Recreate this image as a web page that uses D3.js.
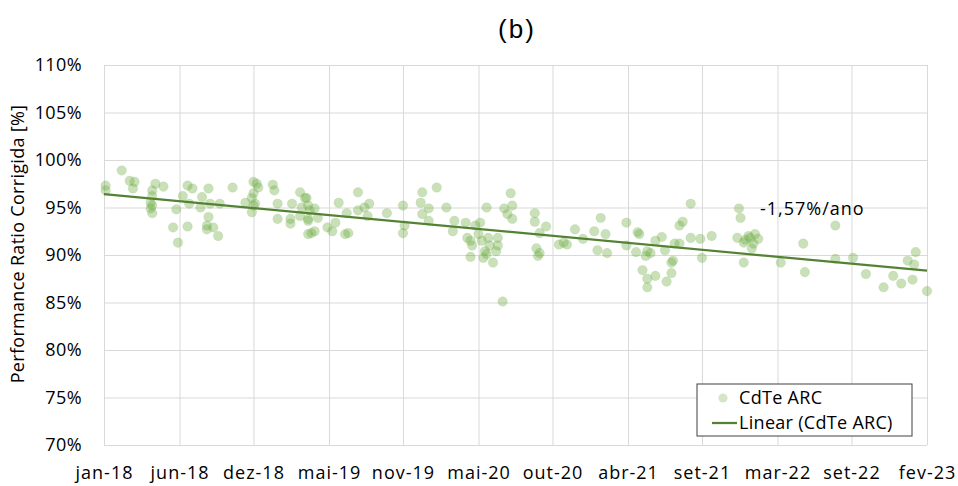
<!DOCTYPE html>
<html>
<head>
<meta charset="utf-8">
<script src="https://cdn.jsdelivr.net/npm/d3@7"></script>
<style>
    body { margin: 0; background: #fff; }
    svg { display: block; }
</style>
</head>
<body>
<svg id="chart" width="958" height="486"></svg>
<script>
// measured points: decimal year / performance ratio (%)
const pointYears = [
    2018.02, 2018.02, 2018.12, 2018.17, 2018.20, 2018.19, 2018.33, 2018.38, 2018.31, 2018.31,
    2018.30, 2018.31, 2018.30, 2018.31, 2018.46, 2018.44, 2018.47, 2018.50, 2018.53, 2018.56,
    2018.54, 2018.53, 2018.62, 2018.61, 2018.66, 2018.67, 2018.66, 2018.65, 2018.69, 2018.65,
    2018.72, 2018.73, 2018.81, 2018.89, 2018.94, 2018.96, 2018.97, 2018.94, 2018.93, 2018.95,
    2018.94, 2018.93, 2019.06, 2019.07, 2019.09, 2019.09, 2019.17, 2019.17, 2019.18, 2019.23,
    2019.26, 2019.24, 2019.23, 2019.28, 2019.28,
    2019.27, 2019.28, 2019.29, 2019.28, 2019.32, 2019.34, 2019.30, 2019.32, 2019.40, 2019.43,
    2019.45, 2019.47, 2019.52, 2019.51, 2019.53, 2019.59, 2019.59, 2019.63, 2019.66, 2019.65,
    2019.77, 2019.87, 2019.88, 2019.87, 2019.99, 2019.98, 2019.99, 2020.03, 2020.03, 2020.08,
    2020.14, 2020.19, 2020.18, 2020.26, 2020.27, 2020.29, 2020.30, 2020.29, 2020.32, 2020.35,
    2020.34, 2020.36, 2020.38, 2020.37, 2020.39, 2020.40, 2020.41, 2020.39, 2020.43, 2020.46,
    2020.46, 2020.45, 2020.49, 2020.50, 2020.52, 2020.54, 2020.55, 2020.55,
    2020.69, 2020.69, 2020.72, 2020.76, 2020.70, 2020.72, 2020.71, 2020.84, 2020.87, 2020.89,
    2020.94, 2020.99, 2021.06, 2021.10, 2021.13, 2021.08, 2021.14, 2021.26, 2021.26, 2021.33,
    2021.34, 2021.32, 2021.39, 2021.38, 2021.41, 2021.36, 2021.39, 2021.39, 2021.44, 2021.44,
    2021.48, 2021.50, 2021.51, 2021.54, 2021.55, 2021.54, 2021.56, 2021.59, 2021.59, 2021.61,
    2021.66, 2021.66, 2021.72, 2021.73, 2021.79,
    2021.96, 2021.97, 2021.95, 2021.99, 2022.03, 2022.06, 2022.08, 2022.05, 2022.04, 2021.99,
    2022.00, 2022.02, 2022.22, 2022.36, 2022.37, 2022.56, 2022.56, 2022.67, 2022.75, 2022.86,
    2022.92, 2022.97, 2023.04, 2023.01, 2023.05, 2023.06, 2023.13
];
const pointValues = [
    97.3, 96.8, 98.9, 97.8, 97.7, 97.0, 97.5, 97.2, 96.8, 96.2,
    95.5, 95.2, 94.9, 94.4, 94.8, 92.9, 91.3, 96.2, 97.3, 97.0,
    95.4, 93.0, 96.1, 95.0, 97.0, 95.4, 94.0, 93.1, 92.9, 92.7,
    92.0, 95.4, 97.1, 95.5, 97.7, 97.5, 97.1, 96.5, 96.0, 95.4,
    95.2, 94.5, 97.4, 96.8, 95.4, 93.8, 93.8, 93.3, 95.4, 96.6,
    96.0, 95.0, 94.1, 93.8, 92.2,
    96.0, 95.2, 94.7, 93.6, 94.9, 93.9, 92.3, 92.5, 92.9, 92.5,
    93.4, 95.5, 94.4, 92.2, 92.3, 96.6, 94.7, 95.0, 95.4, 94.1,
    94.4, 95.2, 93.1, 92.3, 96.6, 95.5, 94.3, 94.9, 93.6, 97.1,
    95.0, 93.6, 92.5, 93.4, 91.8, 91.5, 91.0, 89.8, 93.1, 93.4,
    92.2, 91.5, 90.4, 89.7, 95.0, 91.8, 91.0, 90.1, 89.2, 91.8,
    91.0, 90.4, 85.1, 94.9, 94.3, 96.5, 93.8, 95.2,
    94.4, 93.5, 92.3, 93.0, 90.7, 90.2, 89.9, 91.1, 91.3, 91.1,
    92.7, 91.7, 92.5, 93.9, 92.2, 90.5, 90.2, 93.4, 91.0, 92.4,
    92.2, 90.3, 90.4, 89.9, 90.2, 88.4, 87.5, 86.6, 87.8, 91.5,
    91.9, 90.5, 87.2, 89.2, 89.4, 88.1, 91.2, 91.2, 93.1, 93.5,
    95.4, 91.8, 91.7, 89.7, 92.0,
    94.9, 93.9, 91.8, 91.3, 91.8, 92.2, 91.7, 91.2, 90.7, 89.2,
    91.6, 92.0, 89.2, 91.2, 88.2, 93.1, 89.6, 89.7, 88.0, 86.6,
    87.8, 87.0, 87.4, 89.4, 89.0, 90.3, 86.2
];

// linear trend endpoints (-1,57%/ano)
const trendYears = [2018.01, 2023.13];
const trendValues = [96.4, 88.35];

const xTickYears = [2018.01, 2018.48, 2018.94, 2019.41, 2019.87, 2020.34,
                    2020.80, 2021.27, 2021.73, 2022.20, 2022.66, 2023.13];
const xTickLabels = ["jan-18", "jun-18", "dez-18", "mai-19", "nov-19", "mai-20",
                     "out-20", "abr-21", "set-21", "mar-22", "set-22", "fev-23"];
const yTicks = [70, 75, 80, 85, 90, 95, 100, 105, 110];

const width = 958;
const height = 486;
const margin = { top: 65, right: 31, bottom: 41, left: 104 };
const innerWidth = width - margin.left - margin.right;
const innerHeight = height - margin.top - margin.bottom;

const pointColor = "#70ad47";
const lineColor = "#548235";
const gridColor = "#d9d9d9";
const labelFont = "'Open Sans', sans-serif";

const svg = d3.select("#chart");

const xScale = d3.scaleLinear()
    .domain([xTickYears[0], xTickYears[xTickYears.length - 1]])
    .range([margin.left, margin.left + innerWidth]);

const yScale = d3.scaleLinear()
    .domain([70, 110])
    .range([margin.top + innerHeight, margin.top]);

// title
svg.append("text")
    .attr("x", 517)
    .attr("y", 38)
    .attr("text-anchor", "middle")
    .style("font-family", "'Liberation Sans', Arial, sans-serif")
    .style("font-size", "26px")
    .style("letter-spacing", "2px")
    .text("(b)");

// y axis + horizontal grid
const yAxis = svg.append("g")
    .attr("transform", `translate(${margin.left}, 0)`)
    .call(d3.axisLeft(yScale)
        .tickValues(yTicks)
        .tickSize(-innerWidth)
        .tickPadding(22)
        .tickFormat(d => d + "%"));
yAxis.select(".domain").remove();
yAxis.selectAll("line").attr("stroke", gridColor);
yAxis.selectAll("text")
    .style("font-family", labelFont)
    .style("font-size", "18px")
    .style("letter-spacing", "0.4px")
    .style("fill", "#000");

// x axis + vertical grid
const xAxis = svg.append("g")
    .attr("transform", `translate(0, ${margin.top + innerHeight})`)
    .call(d3.axisBottom(xScale)
        .tickValues(xTickYears)
        .tickSize(-innerHeight)
        .tickPadding(21)
        .tickFormat((d, i) => xTickLabels[i]));
xAxis.select(".domain").remove();
xAxis.selectAll("line").attr("stroke", gridColor);
xAxis.selectAll("text")
    .style("font-family", labelFont)
    .style("font-size", "18px")
    .style("letter-spacing", "1px")
    .style("fill", "#000");

// y axis label
svg.append("text")
    .attr("transform", "rotate(-90)")
    .attr("x", -244)
    .attr("y", 24)
    .attr("text-anchor", "middle")
    .style("font-family", labelFont)
    .style("font-size", "18px")
    .style("letter-spacing", "0.3px")
    .text("Performance Ratio Corrigida [%]");

// scatter points
svg.append("g")
    .selectAll("circle")
    .data(d3.zip(pointYears, pointValues))
    .enter()
    .append("circle")
    .attr("cx", d => xScale(d[0]))
    .attr("cy", d => yScale(d[1]))
    .attr("r", 4.8)
    .attr("fill", pointColor)
    .attr("fill-opacity", 0.38)
    .attr("stroke", pointColor)
    .attr("stroke-opacity", 0.12);

// trend line
const line = d3.line()
    .x(d => xScale(d[0]))
    .y(d => yScale(d[1]));
svg.append("path")
    .datum(d3.zip(trendYears, trendValues))
    .attr("d", line)
    .attr("fill", "none")
    .attr("stroke", lineColor)
    .attr("stroke-width", 2.25);

// trend annotation
svg.append("text")
    .attr("x", 760)
    .attr("y", 215)
    .style("font-family", labelFont)
    .style("font-size", "18px")
    .style("letter-spacing", "1px")
    .text("-1,57%/ano");

// legend
const legend = svg.append("g").attr("transform", "translate(697, 384)");
legend.append("rect")
    .attr("width", 215)
    .attr("height", 52)
    .attr("fill", "#fff")
    .attr("stroke", "#404040")
    .attr("stroke-width", 1);
legend.append("circle")
    .attr("cx", 26)
    .attr("cy", 14)
    .attr("r", 4.6)
    .attr("fill", pointColor)
    .attr("fill-opacity", 0.3);
legend.append("line")
    .attr("x1", 15).attr("x2", 40)
    .attr("y1", 39).attr("y2", 39)
    .attr("stroke", lineColor)
    .attr("stroke-width", 2.25);
legend.selectAll(".legend-label")
    .data(["CdTe ARC", "Linear (CdTe ARC)"])
    .enter()
    .append("text")
    .attr("class", "legend-label")
    .attr("x", 42)
    .attr("y", (d, i) => 20 + i * 25)
    .style("font-family", labelFont)
    .style("font-size", "18px")
    .style("letter-spacing", "0.3px")
    .text(d => d);
</script>
</body>
</html>
